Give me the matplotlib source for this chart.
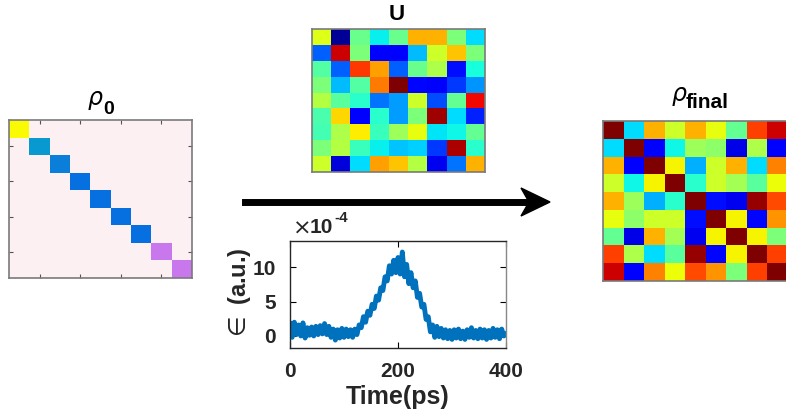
import numpy as np
import matplotlib
matplotlib.use('Agg')
import matplotlib.pyplot as plt
from matplotlib.colors import ListedColormap
from matplotlib.patches import Polygon

plt.rcParams['font.family'] = ['Liberation Sans', 'DejaVu Sans']

# initial density matrix: diagonal populations (colour index), background = 0
rho0_diag = [1, 2, 3, 4, 4, 4, 4, 5, 5]
rho0_colors = ['#fcf0f2', '#fafa05', '#0799d0', '#0a7ed8', '#0670e0', '#c878ec']

# unitary (jet colour scale, 0..1)
U = [
    [0.62, 0.02, 0.48, 0.36, 0.48, 0.72, 0.72, 0.50, 0.34],
    [0.22, 0.93, 0.50, 0.12, 0.11, 0.31, 0.60, 0.70, 0.50],
    [0.45, 0.22, 0.85, 0.74, 0.22, 0.48, 0.56, 0.14, 0.38],
    [0.50, 0.31, 0.45, 0.78, 1.00, 0.13, 0.11, 0.18, 0.27],
    [0.57, 0.46, 0.40, 0.24, 0.28, 0.60, 0.20, 0.47, 0.90],
    [0.44, 0.68, 0.11, 0.40, 0.28, 0.50, 0.97, 0.34, 0.16],
    [0.43, 0.56, 0.66, 0.42, 0.54, 0.63, 0.35, 0.37, 0.47],
    [0.50, 0.57, 0.42, 0.36, 0.32, 0.33, 0.18, 0.96, 0.40],
    [0.60, 0.08, 0.34, 0.74, 0.70, 0.57, 0.10, 0.24, 0.72],
]

# final density matrix (symmetric)
rho_final = [
    [1.00, 0.34, 0.72, 0.60, 0.72, 0.63, 0.47, 0.84, 0.93],
    [0.34, 1.00, 0.12, 0.37, 0.54, 0.52, 0.09, 0.56, 0.12],
    [0.72, 0.12, 1.00, 0.65, 0.30, 0.60, 0.72, 0.34, 0.77],
    [0.60, 0.37, 0.65, 1.00, 0.40, 0.60, 0.55, 0.46, 0.64],
    [0.72, 0.54, 0.30, 0.40, 1.00, 0.14, 0.10, 0.98, 0.83],
    [0.63, 0.52, 0.60, 0.60, 0.14, 1.00, 0.65, 0.13, 0.75],
    [0.47, 0.09, 0.72, 0.55, 0.10, 0.65, 1.00, 0.65, 0.50],
    [0.84, 0.56, 0.34, 0.46, 0.98, 0.13, 0.65, 1.00, 0.84],
    [0.93, 0.12, 0.77, 0.64, 0.83, 0.75, 0.50, 0.84, 1.00],
]

# control field epsilon(t), units of 1e-4
time_ps = np.arange(0, 401, 4)
eps = [1.8, -0.2, 2.0, 0.2, 1.6, 0.0, 1.9, -0.3, 1.2, 0.1,
       1.3, 0.0, 1.4, 0.2, 1.5, 0.3, 1.8, 0.2, 1.4, -0.2,
       1.0, -0.6, 0.9, -0.3, 1.1, -0.2, 1.0, -0.1, 0.9, -0.2,
       1.0, 0.2, 1.6, 1.2, 2.8, 2.0, 3.6, 3.0, 4.6, 4.0,
       5.8, 5.2, 7.0, 6.6, 8.6, 8.0, 10.2, 9.0, 11.0, 9.2,
       11.4, 9.0, 12.2, 8.6, 10.4, 7.6, 9.2, 7.0, 8.0, 5.6,
       6.2, 4.2, 4.6, 2.4, 2.8, 0.6, 1.6, -0.2, 1.4, -0.1,
       1.1, -0.3, 0.9, -0.4, 0.8, -0.5, 0.9, -0.3, 1.0, -0.4,
       0.7, -0.5, 0.9, -0.2, 1.2, -0.3, 0.8, -0.4, 1.0, -0.3,
       0.9, -0.5, 0.8, -0.3, 1.1, -0.2, 0.9, -0.4, 1.0, 0.0, 0.3]

W, H = 786, 420
fig = plt.figure(figsize=(W / 100, H / 100), dpi=100)


def px_axes(left, top, right, bottom):
    return fig.add_axes([left / W, 1 - bottom / H, (right - left) / W, (bottom - top) / H])


def frame(ax):
    for s in ax.spines.values():
        s.set_color('#7a7a7a')
        s.set_linewidth(1.2)


# rho_0
ax0 = px_axes(9, 120, 192, 278)
m0 = np.zeros((9, 9), dtype=int)
for i, v in enumerate(rho0_diag):
    m0[i, i] = v
ax0.imshow(m0, cmap=ListedColormap(rho0_colors), vmin=-0.5, vmax=len(rho0_colors) - 0.5,
           aspect='auto', interpolation='nearest')
ax0.set_xticks([1, 3, 5, 7])
ax0.set_yticks([1, 3, 5, 7])
ax0.tick_params(direction='in', length=3, color='#555555', top=True, right=True,
                labelbottom=False, labelleft=False)
frame(ax0)
fig.text(87 / W, 1 - 101 / H, r'$\rho$', fontsize=17, ha='left', va='center')
fig.text(103 / W, 1 - 109 / H, '0', fontsize=14, fontweight='bold', ha='left', va='center')

# U
axu = px_axes(312, 29, 485, 172)
axu.imshow(U, cmap='jet', vmin=0, vmax=1, aspect='auto', interpolation='nearest')
axu.set_xticks([])
axu.set_yticks([])
frame(axu)
fig.text(397 / W, 1 - 14 / H, 'U', fontsize=16, fontweight='bold', ha='center', va='center')

# rho_final
axf = px_axes(603, 121, 788, 281)
axf.imshow(rho_final, cmap='jet', vmin=0, vmax=1, aspect='auto', interpolation='nearest')
axf.set_xticks([])
axf.set_yticks([])
frame(axf)
fig.text(671 / W, 1 - 96 / H, r'$\rho$', fontsize=17, ha='left', va='center')
fig.text(686 / W, 1 - 102 / H, 'final', fontsize=15, fontweight='bold', ha='left', va='center')

# arrow
fig.add_artist(plt.Line2D([245 / W, 532 / W], [1 - 202 / H, 1 - 202 / H], lw=5, color='k',
                          transform=fig.transFigure))
head = np.array([[550, 202], [521, 188], [529, 202], [521, 216]], dtype=float)
head[:, 0] /= W
head[:, 1] = 1 - head[:, 1] / H
fig.add_artist(Polygon(head, closed=True, color='k', transform=fig.transFigure))

# epsilon(t)
axe = px_axes(290, 241, 506, 348)
axe.plot(time_ps, eps, color='#0072BD', lw=3.5)
axe.set_xlim(0, 400)
axe.set_ylim(-1.75, 13.8)
axe.set_xticks([0, 200, 400])
axe.set_yticks([0, 5, 10])
axe.tick_params(direction='in', length=4, top=True, right=True, labelsize=15, pad=10)
for lab in axe.get_xticklabels() + axe.get_yticklabels():
    lab.set_fontweight('bold')
    lab.set_color('#262626')
for s in axe.spines.values():
    s.set_color('#262626')
    s.set_linewidth(1.0)
axe.spines['right'].set_color('#888888')
axe.set_xlabel('Time(ps)', fontsize=18, fontweight='bold', color='#262626', labelpad=3)
axe.set_ylabel(r'$\in$ (a.u.)', fontsize=17, fontweight='bold', color='#262626', labelpad=0)
fig.text(292 / W, 1 - 228 / H, r'$\times$', fontsize=16, ha='left', va='center', color='#262626')
fig.text(310 / W, 1 - 228 / H, '10', fontsize=15, fontweight='bold',
         ha='left', va='center', color='#262626')
fig.text(334 / W, 1 - 218 / H, '-4', fontsize=11, fontweight='bold',
         ha='left', va='center', color='#262626')

fig.savefig('out.png', dpi=100)
